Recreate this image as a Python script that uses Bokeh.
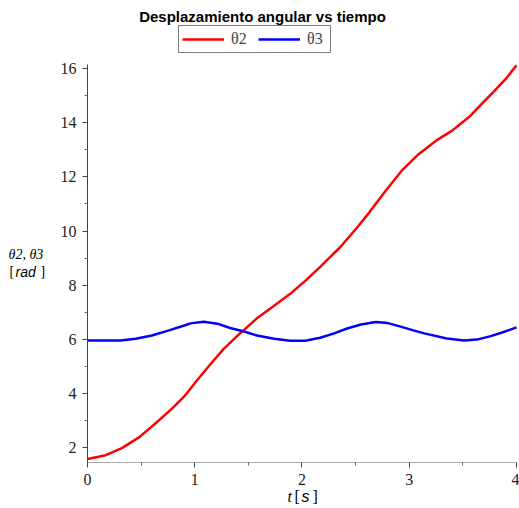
from bokeh.plotting import figure
from bokeh.models import Range1d, FixedTicker, Legend, LegendItem, Label
from bokeh.embed import file_html
from bokeh.resources import INLINE

# theta2 (red)
t2 = [0.0, 0.17, 0.32, 0.48, 0.63, 0.79, 0.90, 1.02, 1.15, 1.27, 1.40, 1.46, 1.58, 1.74,
      1.89, 2.03, 2.17, 2.36, 2.52, 2.63, 2.78, 2.93, 3.09, 3.25, 3.40, 3.56, 3.66, 3.79,
      3.90, 4.0]
theta2 = [1.58, 1.72, 1.98, 2.38, 2.88, 3.45, 3.88, 4.48, 5.10, 5.65, 6.14, 6.35, 6.78, 7.24,
          7.68, 8.16, 8.68, 9.42, 10.16, 10.70, 11.49, 12.23, 12.85, 13.34, 13.71, 14.22, 14.63, 15.16,
          15.62, 16.12]
# theta3 (blue)
t3 = [0.0, 0.31, 0.45, 0.60, 0.76, 0.91, 0.96, 1.085, 1.21, 1.33, 1.46, 1.58, 1.74, 1.89,
      2.03, 2.17, 2.30, 2.42, 2.55, 2.69, 2.80, 2.92, 3.03, 3.14, 3.35, 3.51, 3.63, 3.76,
      3.88, 4.0]
theta3 = [5.96, 5.96, 6.02, 6.14, 6.33, 6.52, 6.59, 6.65, 6.58, 6.42, 6.29, 6.14, 6.02, 5.95,
          5.95, 6.06, 6.22, 6.40, 6.55, 6.64, 6.60, 6.47, 6.34, 6.22, 6.03, 5.96, 5.99, 6.12,
          6.27, 6.44]

x_ticks = [0, 1, 2, 3, 4]
x_minor = [0.5, 1.5, 2.5, 3.5]
y_ticks = [2, 4, 6, 8, 10, 12, 14, 16]
y_minor = [3, 5, 7, 9, 11, 13, 15]
x_bounds = (0, 4)
y_bounds = (1.45, 16.15)

title_text = "Desplazamiento angular vs tiempo"
legend_labels = ["θ2", "θ3"]

W, H = 519, 508
# frame covers the whole canvas; axes are pinned at fixed data locations
p = figure(width=W, height=H, output_backend="svg", toolbar_location=None,
           x_range=Range1d(-0.8112, 4.028), y_range=Range1d(-0.249, 18.517),
           min_border_left=0, min_border_right=0, min_border_top=0, min_border_bottom=0)
p.outline_line_color = None
p.xgrid.visible = False
p.ygrid.visible = False
p.background_fill_color = "white"
p.border_fill_color = "white"

r2 = p.line(t2, theta2, line_color="#ff0000", line_width=2.5, line_join="round")
r3 = p.line(t3, theta3, line_color="#0000ff", line_width=2.5, line_join="round")

p.xaxis.ticker = FixedTicker(ticks=x_ticks, minor_ticks=x_minor)
p.yaxis.ticker = FixedTicker(ticks=y_ticks, minor_ticks=y_minor)
p.xaxis.bounds = x_bounds
p.yaxis.bounds = y_bounds
p.xaxis.fixed_location = y_bounds[0]
p.yaxis.fixed_location = x_bounds[0]
for ax in (p.xaxis, p.yaxis):
    ax.major_label_text_font = "Liberation Serif"
    ax.major_label_text_font_size = "16px"
    ax.major_label_text_color = "#222222"
    ax.major_tick_in = 0
    ax.major_tick_out = 5
    ax.minor_tick_in = 0
    ax.minor_tick_out = 3
    ax.major_tick_line_color = "#444444"
    ax.minor_tick_line_color = "#666666"
p.xaxis.axis_line_color = "#aaaaaa"
p.yaxis.axis_line_color = "#444444"
p.xaxis.major_label_standoff = 6
p.yaxis.major_label_standoff = 6

legend = Legend(items=[LegendItem(label=legend_labels[0], renderers=[r2]),
                       LegendItem(label=legend_labels[1], renderers=[r3])],
                orientation="horizontal", location=(178, H - 53),
                border_line_color="black", border_line_width=1,
                background_fill_color="white", background_fill_alpha=1,
                label_text_font="Liberation Serif", label_text_font_size="16px",
                glyph_width=42, glyph_height=20, label_height=20,
                label_standoff=7, spacing=7, padding=3, margin=0)
p.add_layout(legend)

def lab(x, y, text, font="Liberation Serif", size="14px", style="normal", align="left"):
    # x, y: pixel position from the top-left corner of the picture
    p.add_layout(Label(x=x, y=H - y, x_units="screen", y_units="screen", text=text,
                       text_font=font, text_font_size=size, text_font_style=style,
                       text_align=align, text_baseline="middle", text_color="black"))

lab(262, 15.5, title_text, font="Liberation Sans", size="15px", style="bold", align="center")

# y label
lab(8, 254, "θ2, θ3", style="italic")
lab(9, 271, "[")
lab(15, 271, "rad", font="Liberation Sans", style="italic")
lab(40, 271, "]")

# x label
lab(287, 496, "t", size="16px", style="italic")
lab(294, 496, "[", size="16px")
lab(301, 496, "s", font="Liberation Sans", size="16px", style="italic")
lab(312, 496, "]", size="16px")

open("out.html", "w").write(file_html(p, INLINE))
